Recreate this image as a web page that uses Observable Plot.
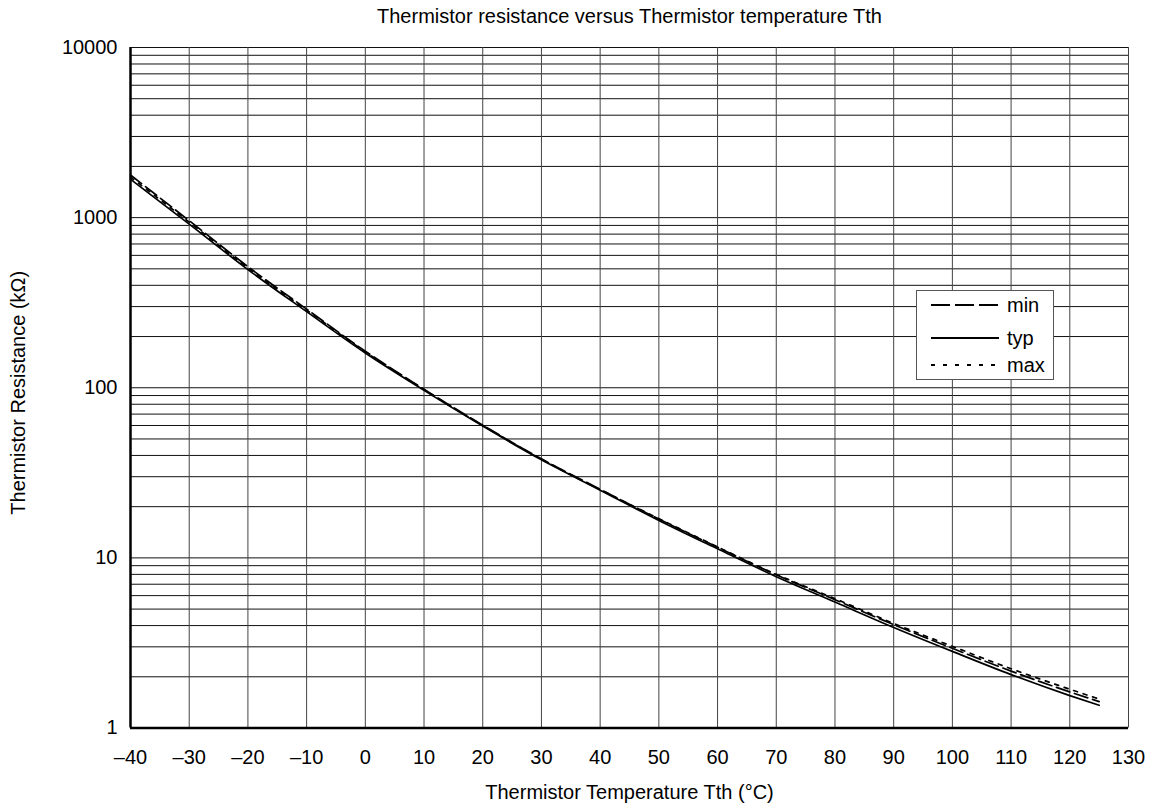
<!DOCTYPE html>
<html>
<head>
<meta charset="utf-8">
<script src="https://cdn.jsdelivr.net/npm/d3@7"></script>
<script src="https://cdn.jsdelivr.net/npm/@observablehq/plot@0.6"></script>
<style>
  html, body { margin: 0; padding: 0; background: #fff; }
  #wrap { position: relative; width: 1151px; height: 810px; font-family: 'Liberation Sans', Arial, sans-serif; }
  #legend { position: absolute; left: 916px; top: 290px; width: 136px; height: 88px; border: 1px solid #555; background: #fff; }
  #legend .row { position: absolute; left: 14px; height: 20px; display: flex; align-items: center; font-size: 20px; color: #000; }
  #legend .row span { margin-left: 8px; line-height: 20px; }
</style>
</head>
<body>
<div id="wrap"></div>
<script>
// ---- data (kΩ) ----
const temps = [-40, -30, -20, -10, 0, 10, 20, 30, 40, 50, 60, 70, 80, 90, 100, 110, 120, 125];
const typR  = [1680, 915, 495, 280, 160, 96.5, 59.5, 37.7, 25.0, 16.6, 11.3, 7.75, 5.50, 3.90, 2.82, 2.06, 1.55, 1.36];
const minR  = [1780, 960, 515, 290, 164, 98.0, 60.3, 38.2, 25.3, 16.9, 11.55, 7.95, 5.68, 4.05, 2.94, 2.16, 1.63, 1.43];
const maxR  = [1730, 940, 505, 286, 162.5, 97.5, 60.0, 38.0, 25.2, 17.0, 11.6, 8.00, 5.76, 4.12, 3.02, 2.23, 1.69, 1.48];

const xTicks = [-40, -30, -20, -10, 0, 10, 20, 30, 40, 50, 60, 70, 80, 90, 100, 110, 120, 130];
const yTicks = [1, 10, 100, 1000, 10000];
const yGrid = [];
for (const dec of [1, 10, 100, 1000]) for (let k = 1; k <= 9; k++) yGrid.push(k * dec);
yGrid.push(10000);

const titleText = "Thermistor resistance versus Thermistor temperature Tth";
const xLabel = "Thermistor Temperature Tth (°C)";
const yLabel = "Thermistor Resistance (kΩ)";

const series = [
  {name: "min", values: minR, dash: "14,5"},
  {name: "typ", values: typR, dash: null},
  {name: "max", values: maxR, dash: "4,6"}
];

const rows = [];
for (const s of series) temps.forEach((t, i) => rows.push({t, r: s.values[i], name: s.name}));

const lineMarks = series.map(s => Plot.line(rows.filter(d => d.name === s.name), {
  x: "t", y: "r", stroke: "#000", strokeWidth: 1.7, curve: "monotone-x",
  strokeDasharray: s.dash || undefined
}));

const chart = Plot.plot({
  width: 1151, height: 810,
  marginLeft: 130, marginRight: 23, marginTop: 47, marginBottom: 82.5,
  style: {fontFamily: "'Liberation Sans', Arial, sans-serif", fontSize: "20px", color: "#000", background: "#fff"},
  x: {domain: [-40, 130], ticks: xTicks, tickFormat: d => d < 0 ? "\u2013" + Math.abs(d) : String(d), tickSize: 0, tickPadding: 22, label: null},
  y: {type: "log", domain: [1, 10000], ticks: yTicks, tickFormat: d => String(d), tickSize: 0, tickPadding: 13, label: null},
  marks: [
    Plot.ruleY(yGrid, {stroke: "#111", strokeWidth: 1}),
    Plot.ruleX(xTicks, {stroke: "#444", strokeWidth: 1}),
    ...lineMarks,
    Plot.ruleX([-40], {stroke: "#000", strokeWidth: 2.5}),
    Plot.ruleY([1], {stroke: "#000", strokeWidth: 2.5}),
    Plot.text([titleText], {text: d => d, frameAnchor: "top", dy: -39, fontSize: 20, textAnchor: "middle"}),
    Plot.text([xLabel], {text: d => d, frameAnchor: "bottom", dy: 71, fontSize: 20, textAnchor: "middle"}),
    Plot.text([yLabel], {text: d => d, frameAnchor: "left", dx: -112, dy: 5, rotate: -90, fontSize: 20, textAnchor: "middle"})
  ]
});

const wrap = document.getElementById("wrap");
wrap.appendChild(chart);

// legend
const legend = document.createElement("div");
legend.id = "legend";
const rowTops = [4, 37, 64];
series.forEach((s, i) => {
  const row = document.createElement("div");
  row.className = "row";
  row.style.top = rowTops[i] + "px";
  row.innerHTML = `<svg width="68" height="20"><line x1="0" x2="68" y1="10" y2="10" stroke="#000" stroke-width="2" ${s.dash ? `stroke-dasharray="${s.name === 'min' ? '19,5' : '4,8'}"` : ""}/></svg><span>${s.name}</span>`;
  legend.appendChild(row);
});
wrap.appendChild(legend);
</script>
</body>
</html>
